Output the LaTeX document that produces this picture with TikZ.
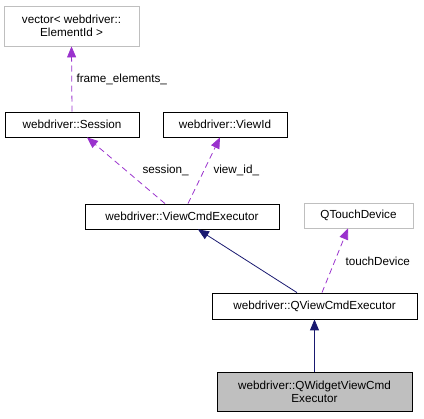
\documentclass[tikz,border=0pt]{standalone}
\usepackage{fontspec}
\setmainfont{Liberation Sans}
\usetikzlibrary{arrows.meta}
\definecolor{usecolor}{HTML}{9A32CD}
\definecolor{inhcolor}{HTML}{191970}
\definecolor{extcolor}{HTML}{BFBFBF}

\begin{document}
\begin{tikzpicture}[x=1pt,y=-1pt,font=\fontsize{11.7}{13}\selectfont,
	cls/.style={draw=black,line width=0.8pt,rectangle,inner sep=0pt,align=center,minimum height=25pt},
	extcls/.style={cls,draw=extcolor},
	usage/.style={draw=usecolor,dash pattern=on 6pt off 4pt,line width=0.8pt,-{Triangle[length=11pt,width=9pt]}},
	inherit/.style={draw=inhcolor,line width=0.8pt,-{Triangle[length=11pt,width=9pt]}}]
						\useasboundingbox (0,0) rectangle (424,419);
						% classes
						\node[extcls,minimum width=135pt,minimum height=40pt] (vector) at (71.5,26) {vector< webdriver::\\ElementId >};
						\node[cls,minimum width=134pt] (session) at (72,124.5) {webdriver::Session};
						\node[cls,minimum width=124pt] (viewid) at (225,124.5) {webdriver::ViewId};
						\node[cls,minimum width=194pt] (vce) at (182,216.5) {webdriver::ViewCmdExecutor};
						\node[extcls,minimum width=109pt] (qtouch) at (358.5,215.5) {QTouchDevice};
						\node[cls,minimum width=205pt,minimum height=26pt] (qvce) at (314.5,306) {webdriver::QViewCmdExecutor};
						\node[cls,fill=extcolor,minimum width=195pt,minimum height=39pt] (qwvce) at (314.5,391.5) {webdriver::QWidgetViewCmd\\Executor};
						% members
						\draw[usage] (session.north) -- (vector.south);
						\node[anchor=west] (framelbl) at (73,79) {frame\_elements\_};
						\draw[usage] ([xshift=-17pt]vce.north) -- ([xshift=15pt]session.south);
						\node[anchor=west] (sessionlbl) at (139,170) {session\_};
						\draw[usage] ([xshift=6pt]vce.north) -- ([xshift=-5pt]viewid.south);
						\node[anchor=west] (viewidlbl) at (210,170) {view\_id\_};
						\draw[usage] ([xshift=7.5pt]qvce.north) -- ([xshift=-10.5pt]qtouch.south);
						\node[anchor=west] (touchlbl) at (342,261) {touchDevice};
						% bases
						\draw[inherit] ([xshift=-17.5pt]qvce.north) -- ([xshift=16pt]vce.south);
						\draw[inherit] (qwvce.north) -- (qvce.south);
\end{tikzpicture}
\end{document}
